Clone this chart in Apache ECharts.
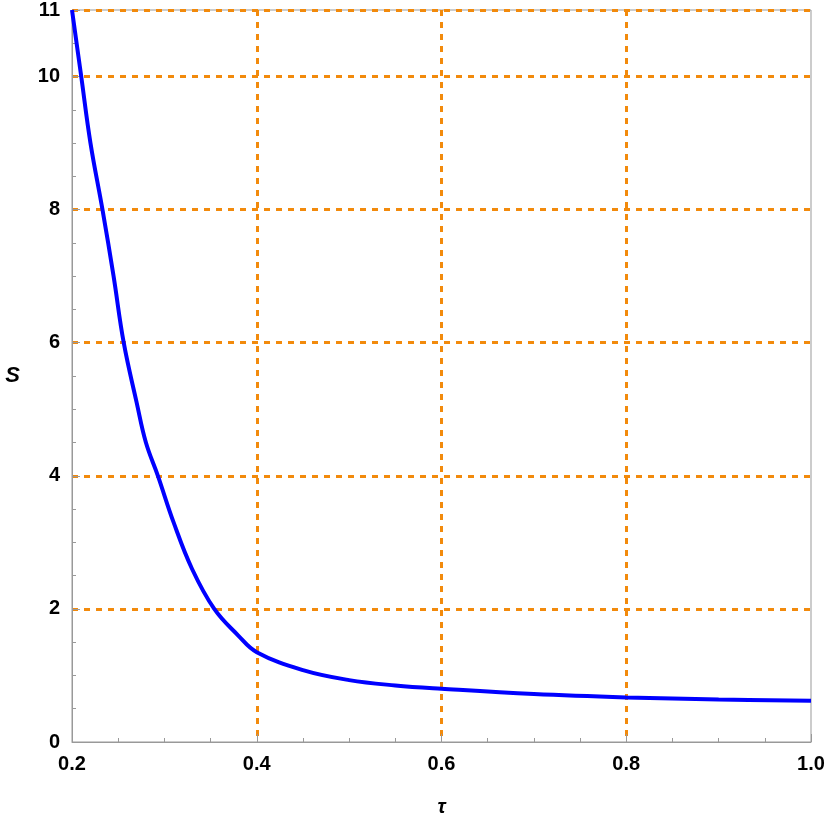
<!DOCTYPE html>
<html><head><meta charset="utf-8">
<script src="https://cdn.jsdelivr.net/npm/echarts@6/dist/echarts.min.js"></script>
<style>html,body{margin:0;padding:0;background:#fff}#c{width:830px;height:835px}</style>
</head><body><div id="c"></div>
<script>
const tau = [0.2,0.21,0.22,0.233,0.245,0.256,0.27,0.28,0.293,0.31,0.33,0.354,0.38,0.4,0.45,0.5,0.55,0.6,0.7,0.8,0.9,1.0];
const S   = [11,10,9,8,7,6,5.1,4.5,4,3.3,2.6,2,1.6,1.35,1.08,0.93,0.85,0.80,0.72,0.67,0.64,0.62];
const chart = echarts.init(document.getElementById('c'));
const lbl = {fontFamily:'Liberation Sans, Arial', fontWeight:'bold', fontSize:20, color:'#000'};
const split = {show:true, lineStyle:{color:'#f28a0c', type:[6,6], width:3}};
chart.setOption({
  animation:false,
  grid:{left:72,right:19,top:3,bottom:93,show:true,borderColor:'#999',borderWidth:1},
  xAxis:{type:'value',min:0.2,max:1.0,interval:0.2,
    name:'τ',nameLocation:'middle',nameGap:55,nameTextStyle:{fontFamily:'Liberation Sans',fontWeight:'bold',fontStyle:'italic',fontSize:20,color:'#000'},
    axisLine:{lineStyle:{color:'#999'}},axisTick:{inside:true,length:8,lineStyle:{color:'#999'}},
    minorTick:{show:true,splitNumber:4,length:4,lineStyle:{color:'#999'}},
    axisLabel:{...lbl,margin:12,formatter:v=>v.toFixed(1)},splitLine:{...split,showMinLine:false,showMaxLine:false}},
  yAxis:{type:'value',min:0,max:11,interval:2,
    name:'S',nameLocation:'middle',nameGap:52,nameRotate:0,nameTextStyle:{fontFamily:'Liberation Sans',fontWeight:'bold',fontStyle:'italic',fontSize:22,color:'#000'},
    axisLine:{show:true,lineStyle:{color:'#999'}},axisTick:{show:true,inside:true,length:8,lineStyle:{color:'#999'}},
    minorTick:{show:true,splitNumber:4,length:4,lineStyle:{color:'#999'}},
    axisLabel:{...lbl,margin:12},splitLine:{...split,showMinLine:false}},
  series:[{type:'line',data:tau.map((t,i)=>[t,S[i]]),smooth:0.4,showSymbol:false,
    lineStyle:{color:'#0000ff',width:4},clip:true}]
});
</script></body></html>
